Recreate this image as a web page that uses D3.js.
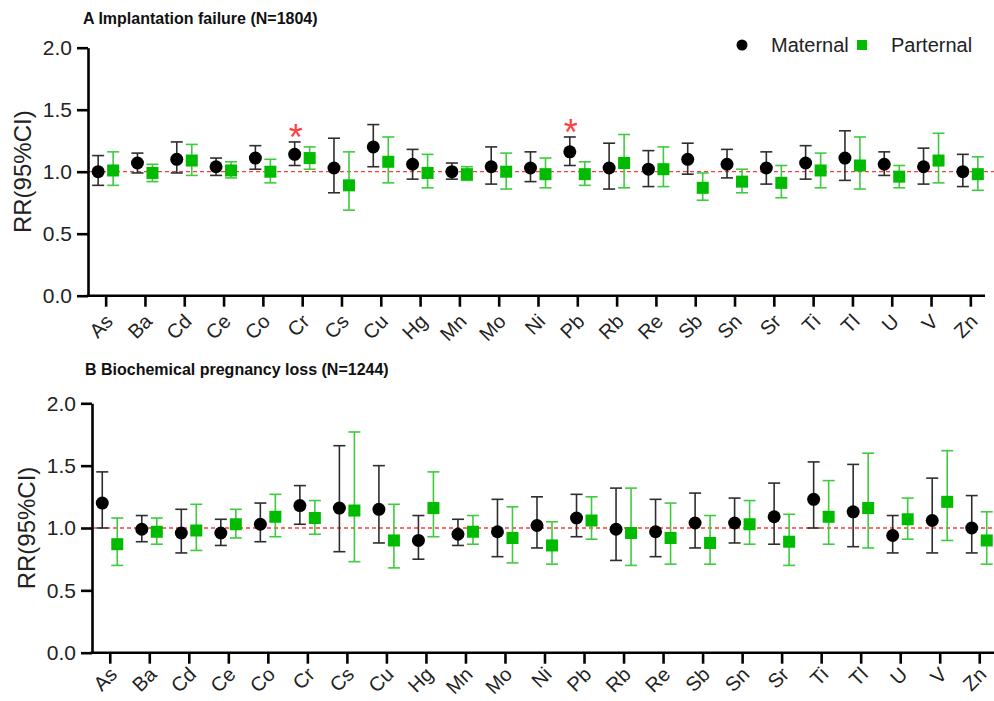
<!DOCTYPE html>
<html>
<head>
<meta charset="utf-8">
<script src="https://cdnjs.cloudflare.com/ajax/libs/d3/7.8.5/d3.min.js"></script>
<style>
  body { margin: 0; background: #fff; }
  svg { display: block; font-family: "Liberation Sans", Arial, sans-serif; }
</style>
</head>
<body>
<svg></svg>
<script>
//metals along the x axis
const metals = ['As','Ba','Cd','Ce','Co','Cr','Cs','Cu','Hg','Mn','Mo','Ni','Pb','Rb','Re','Sb','Sn','Sr','Ti','Tl','U','V','Zn'];
const yTicks = [0, 0.5, 1.0, 1.5, 2.0];
const starred = ['Cr', 'Pb'];
const seriesNames = ['Maternal', 'Parternal'];

//A - implantation failure, maternal RR and 95% CI
const failMatRR   = [1.00,1.07,1.10,1.04,1.11,1.14,1.03,1.20,1.06,1.00,1.04,1.03,1.16,1.03,1.02,1.10,1.06,1.03,1.07,1.11,1.06,1.04,1.00];
const failMatLow  = [0.89,0.99,0.99,0.97,1.02,1.05,0.83,1.04,0.94,0.94,0.90,0.92,1.05,0.86,0.88,0.98,0.95,0.90,0.94,0.93,0.97,0.90,0.88];
const failMatHigh = [1.13,1.15,1.24,1.11,1.21,1.24,1.27,1.38,1.18,1.07,1.20,1.16,1.28,1.23,1.17,1.23,1.18,1.16,1.21,1.33,1.16,1.19,1.14];
//A - paternal
const failPatRR   = [1.01,0.99,1.09,1.01,1.00,1.11,0.89,1.08,0.99,0.98,1.00,0.98,0.98,1.07,1.02,0.87,0.92,0.91,1.01,1.05,0.96,1.09,0.98];
const failPatLow  = [0.89,0.92,0.97,0.95,0.91,1.02,0.69,0.91,0.87,0.93,0.86,0.87,0.89,0.87,0.88,0.77,0.83,0.79,0.87,0.86,0.87,0.91,0.85];
const failPatHigh = [1.16,1.06,1.22,1.08,1.10,1.20,1.16,1.28,1.14,1.04,1.15,1.11,1.08,1.30,1.20,0.99,1.02,1.05,1.15,1.28,1.05,1.31,1.12];

//B - biochemical pregnancy loss, maternal
const lossMatRR   = [1.20,0.99,0.96,0.96,1.03,1.18,1.16,1.15,0.90,0.95,0.97,1.02,1.08,0.99,0.97,1.04,1.04,1.09,1.23,1.13,0.94,1.06,1.00];
const lossMatLow  = [1.00,0.89,0.80,0.86,0.89,1.03,0.81,0.88,0.75,0.86,0.77,0.84,0.93,0.74,0.77,0.84,0.88,0.87,1.00,0.85,0.80,0.80,0.80];
const lossMatHigh = [1.45,1.10,1.15,1.07,1.20,1.34,1.66,1.50,1.10,1.07,1.23,1.25,1.27,1.32,1.23,1.28,1.24,1.36,1.53,1.51,1.10,1.40,1.26];
//B - paternal
const lossPatRR   = [0.87,0.97,0.98,1.03,1.09,1.08,1.14,0.90,1.16,0.97,0.92,0.86,1.06,0.96,0.92,0.88,1.03,0.89,1.09,1.16,1.07,1.21,0.90];
const lossPatLow  = [0.70,0.87,0.82,0.92,0.93,0.95,0.73,0.68,0.93,0.87,0.72,0.71,0.91,0.70,0.71,0.71,0.87,0.70,0.87,0.84,0.91,0.90,0.71];
const lossPatHigh = [1.08,1.08,1.19,1.15,1.27,1.22,1.77,1.19,1.45,1.10,1.17,1.05,1.25,1.32,1.20,1.10,1.22,1.11,1.38,1.60,1.24,1.62,1.13];

const w = 994;
const h = 701;

const matColor = '#000000';
const matBar = '#2e2e2e';
const patColor = '#00bb00';
const patBar = '#3fcb3f';

const svg = d3.select('svg')
    .attr('width', w)
    .attr('height', h);

//turn the parallel arrays into rows
const rows = (rr, lo, hi) => metals.map((m, i) => ({ m: m, rr: rr[i], lo: lo[i], hi: hi[i] }));

const drawSeries = (g, xScale, yScale, data, offset, barColor, isSquare) => {
    const cap = 6;
    const s = g.append('g');
    const item = s.selectAll('g')
        .data(data)
        .enter()
        .append('g')
        .attr('transform', (d) => 'translate(' + (xScale(d.m) + offset) + ',0)');

    item.append('line')
        .attr('y1', (d) => yScale(d.lo))
        .attr('y2', (d) => yScale(d.hi))
        .attr('stroke', barColor)
        .attr('stroke-width', 1.6);
    item.append('line')
        .attr('x1', -cap).attr('x2', cap)
        .attr('y1', (d) => yScale(d.hi)).attr('y2', (d) => yScale(d.hi))
        .attr('stroke', barColor)
        .attr('stroke-width', 1.6);
    item.append('line')
        .attr('x1', -cap).attr('x2', cap)
        .attr('y1', (d) => yScale(d.lo)).attr('y2', (d) => yScale(d.lo))
        .attr('stroke', barColor)
        .attr('stroke-width', 1.6);

    if (isSquare) {
        item.append('rect')
            .attr('x', -6)
            .attr('y', (d) => yScale(d.rr) - 6)
            .attr('width', 12)
            .attr('height', 12)
            .attr('fill', patColor);
    } else {
        item.append('circle')
            .attr('cy', (d) => yScale(d.rr))
            .attr('r', 6.5)
            .attr('fill', matColor);
    }
};

const drawPanel = (p) => {
    const g = svg.append('g');

    const xScale = d3.scalePoint()
        .domain(metals)
        .range(p.band)
        .padding(0.5);

    const yScale = d3.scaleLinear()
        .domain([0, 2])
        .range([p.bottom, p.top]);

    //dashed reference line at RR = 1
    g.append('line')
        .attr('x1', p.left)
        .attr('x2', w)
        .attr('y1', yScale(1))
        .attr('y2', yScale(1))
        .attr('stroke', '#ff3b3b')
        .attr('stroke-width', 1.3)
        .attr('stroke-dasharray', '4,3');

    //y axis
    const yAxis = d3.axisLeft(yScale)
        .tickValues(yTicks)
        .tickFormat(d3.format('.1f'))
        .tickSize(11)
        .tickSizeOuter(0)
        .tickPadding(5);
    const ya = g.append('g')
        .attr('transform', 'translate(' + p.left + ',0)')
        .call(yAxis);
    ya.select('.domain').attr('stroke', '#000').attr('stroke-width', 2.6);
    ya.selectAll('.tick line').attr('stroke', '#000').attr('stroke-width', 2.6);
    ya.selectAll('text')
        .attr('fill', '#222')
        .style('font-size', '21px')
        .style('font-family', '"Liberation Sans", Arial, sans-serif');

    //x axis
    const xAxis = d3.axisBottom(xScale)
        .tickSize(11)
        .tickSizeOuter(0);
    const xa = g.append('g')
        .attr('transform', 'translate(0,' + p.bottom + ')')
        .call(xAxis);
    xa.select('.domain').remove();
    xa.append('line')
        .attr('x1', p.left - 1.3)
        .attr('x2', p.right)
        .attr('stroke', '#000')
        .attr('stroke-width', 2.6);
    xa.selectAll('.tick line').attr('stroke', '#000').attr('stroke-width', 2.6);
    xa.selectAll('text')
        .attr('x', 0)
        .attr('y', 0)
        .attr('dy', 0)
        .attr('transform', 'translate(8,' + p.labelDrop + ') rotate(-45)')
        .style('text-anchor', 'end')
        .attr('fill', '#222')
        .style('font-size', '20px')
        .style('font-family', '"Liberation Sans", Arial, sans-serif');

    //y axis title
    g.append('text')
        .attr('transform', 'translate(' + (p.left - 57) + ',' + ((p.top + p.bottom) / 2) + ') rotate(-90)')
        .attr('text-anchor', 'middle')
        .attr('fill', '#222')
        .style('font-size', '24px')
        .text('RR(95%CI)');

    //panel title
    g.append('text')
        .attr('x', p.titleX)
        .attr('y', p.titleY)
        .attr('fill', '#111')
        .style('font-size', '16px')
        .style('font-weight', 'bold')
        .text(p.title);

    drawSeries(g, xScale, yScale, p.mat, -7.5, matBar, false);
    drawSeries(g, xScale, yScale, p.pat, 7.5, patBar, true);

    //significance stars
    const mat = p.mat;
    g.selectAll('.star')
        .data(mat.filter((d) => p.stars.includes(d.m)))
        .enter()
        .append('text')
        .attr('class', 'star')
        .attr('x', (d) => xScale(d.m) - 6.5)
        .attr('y', (d) => yScale(d.hi) + 8)
        .attr('text-anchor', 'middle')
        .attr('fill', '#ff4040')
        .style('font-size', '36px')
        .text('*');
};

const drawLegend = () => {
    const lg = svg.append('g');
    lg.append('circle')
        .attr('cx', 742)
        .attr('cy', 45)
        .attr('r', 5.5)
        .attr('fill', matColor);
    lg.append('text')
        .attr('x', 771)
        .attr('y', 52)
        .attr('fill', '#222')
        .style('font-size', '20px')
        .text(seriesNames[0]);
    lg.append('rect')
        .attr('x', 857)
        .attr('y', 40)
        .attr('width', 10)
        .attr('height', 10)
        .attr('fill', patColor);
    lg.append('text')
        .attr('x', 891)
        .attr('y', 52)
        .attr('fill', '#222')
        .style('font-size', '20px')
        .text(seriesNames[1]);
};

drawPanel({
    title: 'A Implantation failure (N=1804)',
    titleX: 83, titleY: 24,
    left: 88, right: 985,
    top: 47.7, bottom: 295.7,
    band: [86, 990],
    labelDrop: 27,
    mat: rows(failMatRR, failMatLow, failMatHigh),
    pat: rows(failPatRR, failPatLow, failPatHigh),
    stars: starred
});

drawPanel({
    title: 'B Biochemical pregnancy loss (N=1244)',
    titleX: 85, titleY: 375,
    left: 92, right: 994,
    top: 403.3, bottom: 652.7,
    band: [90, 999],
    labelDrop: 23,
    mat: rows(lossMatRR, lossMatLow, lossMatHigh),
    pat: rows(lossPatRR, lossPatLow, lossPatHigh),
    stars: []
});

drawLegend();
</script>
</body>
</html>
